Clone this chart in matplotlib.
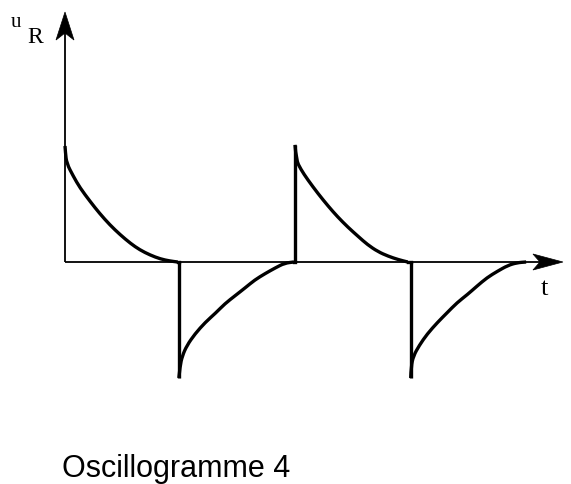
import matplotlib
matplotlib.use("Agg")
import matplotlib.pyplot as plt
from matplotlib.patches import Polygon, PathPatch
from matplotlib.path import Path
from matplotlib.transforms import IdentityTransform

# ---- data (time in half-periods, voltage normalised to peak) ----
# each pulse: vertical jump at its first time, then decaying branch
pulse1_t = [0, 0.004, 0.015, 0.072, 0.13, 0.22, 0.30, 0.39, 0.48, 0.57, 0.65, 0.74, 0.83, 0.91, 0.98]
pulse1_u = [1.0, 0.94, 0.85, 0.74, 0.64, 0.52, 0.42, 0.32, 0.235, 0.16, 0.105, 0.06, 0.026, 0.009, 0]

pulse2_t = [0.99, 1.0, 1.02, 1.06, 1.13, 1.22, 1.31, 1.39, 1.48, 1.57, 1.65, 1.74, 1.83, 1.91, 1.99]
pulse2_u = [-1.0, -0.90, -0.81, -0.72, -0.62, -0.52, -0.44, -0.36, -0.29, -0.22, -0.155, -0.10, -0.05, -0.01, 0]

pulse3_t = [2.0, 2.01, 2.05, 2.11, 2.20, 2.29, 2.37, 2.46, 2.55, 2.63, 2.72, 2.81, 2.90, 2.98]
pulse3_u = [1.01, 0.88, 0.80, 0.71, 0.59, 0.48, 0.39, 0.30, 0.22, 0.15, 0.09, 0.05, 0.02, 0]

pulse4_t = [3.006, 3.01, 3.03, 3.08, 3.15, 3.24, 3.32, 3.41, 3.50, 3.58, 3.67, 3.76, 3.85, 3.93, 4.01]
pulse4_u = [-1.0, -0.90, -0.81, -0.72, -0.62, -0.52, -0.44, -0.35, -0.28, -0.21, -0.135, -0.08, -0.03, -0.006, 0]

t_axis_end = 4.33
u_axis_end = 2.155

y_label_main = "u"
y_label_sub = "R"
x_label = "t"
caption = "Oscillogramme 4"

W, H = 571, 484
fig = plt.figure(figsize=(W / 100, H / 100), dpi=100)
ax = fig.add_axes([0, 0, 1, 1])
ax.set_xlim(-65 / 115, (W - 65) / 115)
ax.set_ylim((262 - H) / 116, 262 / 116)
ax.axis("off")

# axes lines
ax.plot([0, t_axis_end - 0.15], [0, 0], color="black", lw=1.3, solid_capstyle="butt")
ax.plot([0, 0], [0, u_axis_end - 0.15], color="black", lw=1.3, solid_capstyle="butt")


def smooth_branch(ts, us):
    pts = list(zip(ts, us))
    verts = [pts[0]]
    codes = [Path.MOVETO]
    for i in range(1, len(pts) - 1):
        mx = (pts[i][0] + pts[i + 1][0]) / 2
        my = (pts[i][1] + pts[i + 1][1]) / 2
        verts += [pts[i], (mx, my)]
        codes += [Path.CURVE3, Path.CURVE3]
    verts.append(pts[-1])
    codes.append(Path.LINETO)
    return Path(verts, codes)


LW = 2.4
for i, (tt, uu) in enumerate([(pulse1_t, pulse1_u), (pulse2_t, pulse2_u),
                              (pulse3_t, pulse3_u), (pulse4_t, pulse4_u)]):
    if i > 0:
        # vertical jump edge
        ax.plot([tt[0], tt[0]], [0, uu[0]], color="black", lw=LW, solid_capstyle="butt")
    ax.add_patch(PathPatch(smooth_branch(tt, uu), fill=False, edgecolor="black",
                           lw=LW, joinstyle="round", capstyle="butt"))

# short stretches along the axis between branch end and next jump
ax.plot([pulse1_t[-1], pulse2_t[0]], [0, 0], color="black", lw=LW)
ax.plot([pulse2_t[-1], pulse3_t[0]], [0, 0], color="black", lw=LW)
ax.plot([pulse3_t[-1], pulse4_t[0]], [0, 0], color="black", lw=LW)

fig.canvas.draw()


def arrow_head(tip_data, direction, length=30, half=8.5, notch=7):
    tx, ty = ax.transData.transform(tip_data)
    dx, dy = direction
    px, py = -dy, dx
    verts = [
        (tx, ty),
        (tx - dx * length + px * half, ty - dy * length + py * half),
        (tx - dx * (length - notch), ty - dy * (length - notch)),
        (tx - dx * length - px * half, ty - dy * length - py * half),
    ]
    fig.add_artist(Polygon(verts, closed=True, transform=IdentityTransform(),
                           facecolor="black", edgecolor="black", lw=0.5))


arrow_head((t_axis_end, 0), (1, 0), length=30, half=8)
arrow_head((0, u_axis_end), (0, 1), length=28, half=9)


def ftxt(x, y, s, **kw):
    fig.text(x / W, 1 - y / H, s, **kw)


ftxt(11, 27, y_label_main, family="Liberation Serif", fontsize=15, va="baseline", ha="left")
ftxt(27, 43, y_label_sub, family="Liberation Serif", fontsize=17, va="baseline", ha="left")
ftxt(541, 295, x_label, family="Liberation Serif", fontsize=19, va="baseline", ha="left")
ftxt(62, 477, caption, family="Liberation Sans", fontsize=22, va="baseline", ha="left")

fig.savefig("out.png", dpi=100, facecolor="white")
